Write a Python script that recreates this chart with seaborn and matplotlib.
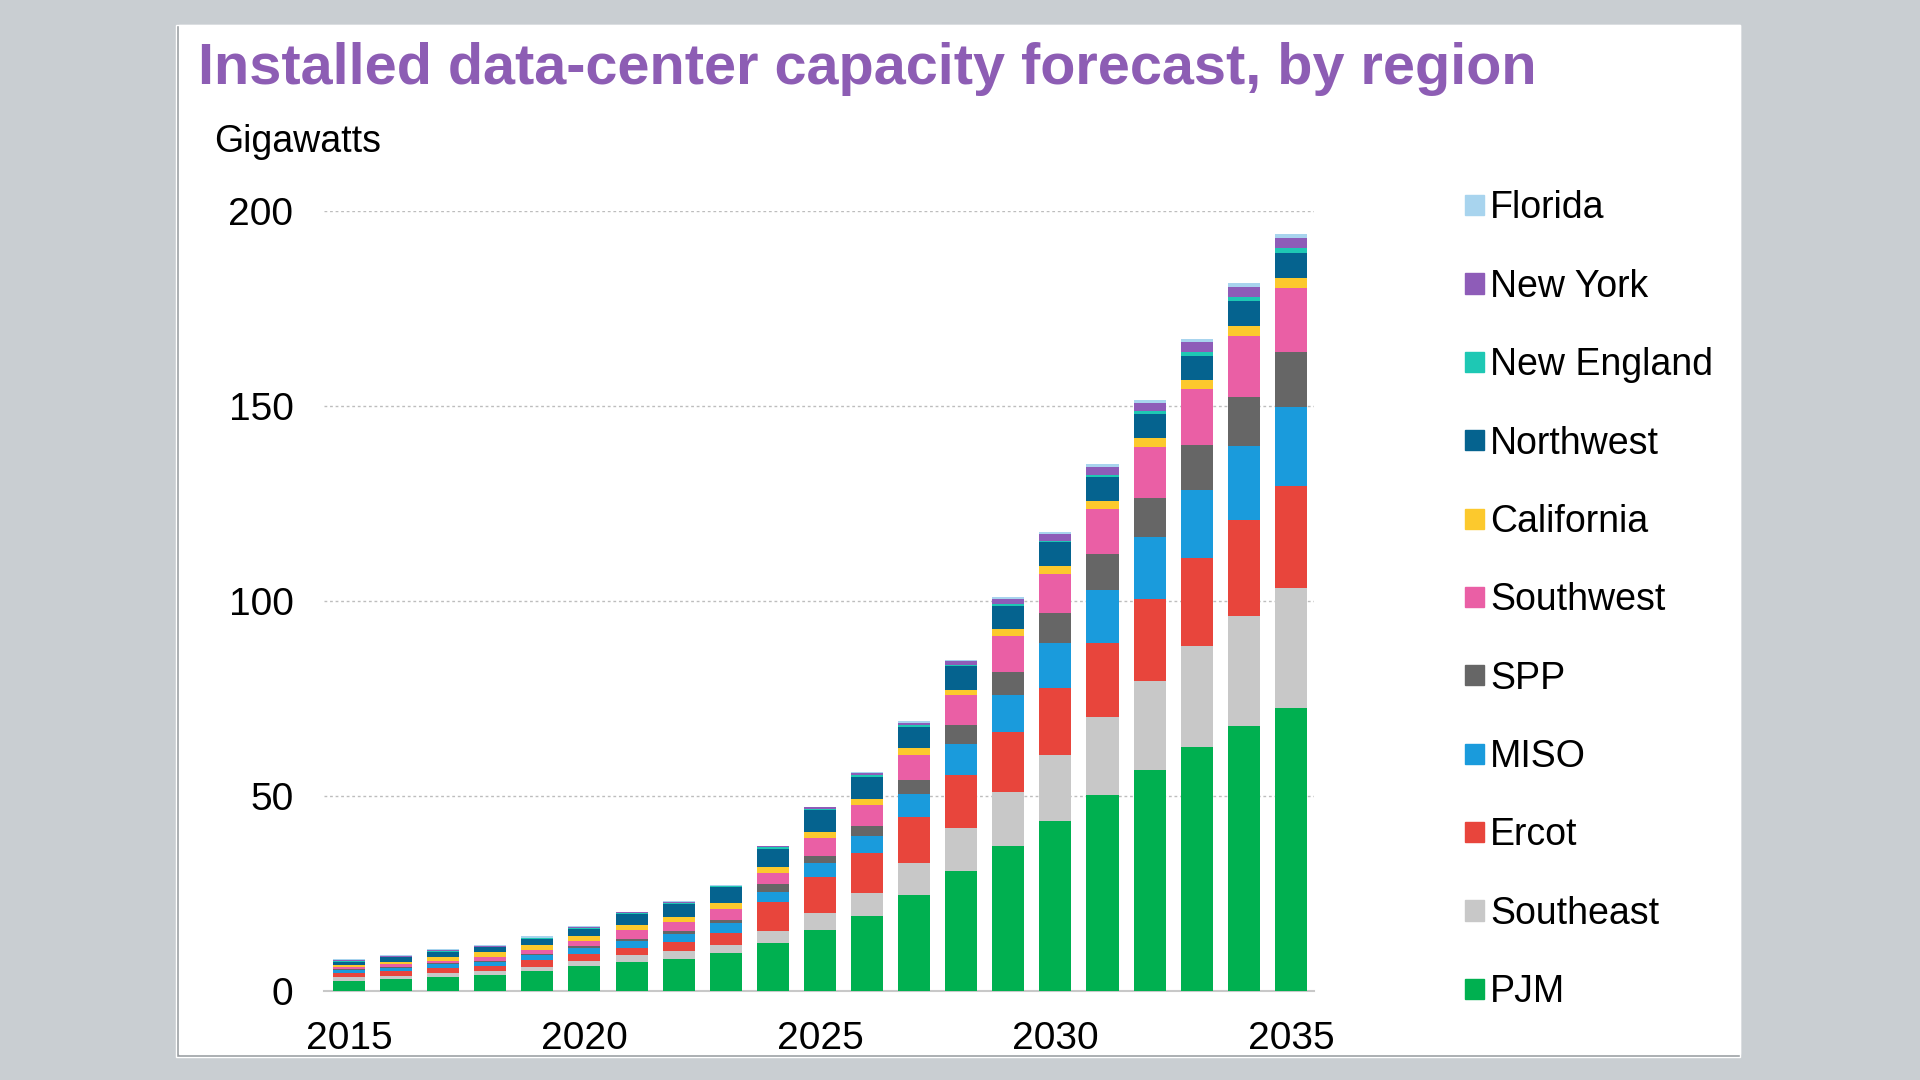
import pandas as pd
import matplotlib.pyplot as plt
import matplotlib.patches as mpatches
import seaborn as sns

# Values (gigawatts)
years = [str(y) for y in range(2015, 2036)]
regions = ['PJM', 'Southeast', 'Ercot', 'MISO', 'SPP', 'Southwest',
           'California', 'Northwest', 'New England', 'New York', 'Florida']

pjm = [2.4, 2.9, 3.4, 3.9, 5.0, 6.2, 7.3, 8.2, 9.6, 12.1, 15.5,
       19.1, 24.4, 30.6, 37.0, 43.5, 50.1, 56.6, 62.4, 67.8, 72.5]
southeast = [1.0, 0.9, 1.1, 1.1, 1.1, 1.5, 1.8, 2.0, 2.2, 3.2, 4.5,
             6.0, 8.2, 11.1, 13.9, 17.0, 20.1, 22.9, 26.0, 28.3, 30.7]
ercot = [1.1, 1.2, 1.3, 1.2, 1.7, 1.8, 1.8, 2.2, 3.0, 7.3, 9.0,
         10.3, 11.9, 13.7, 15.3, 17.2, 19.0, 20.9, 22.6, 24.6, 26.1]
miso = [0.7, 0.8, 0.9, 1.2, 1.4, 1.4, 1.7, 2.1, 2.4, 2.8, 3.6,
        4.3, 5.8, 7.7, 9.6, 11.5, 13.6, 15.8, 17.4, 19.0, 20.4]
spp = [0.3, 0.3, 0.3, 0.3, 0.3, 0.5, 0.7, 0.9, 1.0, 1.8, 1.8,
       2.4, 3.7, 5.0, 6.0, 7.5, 9.1, 10.2, 11.5, 12.6, 14.1]
southwest = [0.5, 0.6, 0.7, 0.9, 1.0, 1.4, 2.2, 2.1, 2.7, 3.0, 4.7,
             5.5, 6.4, 7.6, 9.0, 10.2, 11.5, 12.9, 14.3, 15.6, 16.3]
california = [0.6, 0.6, 1.0, 1.2, 1.3, 1.3, 1.4, 1.4, 1.6, 1.6, 1.5,
              1.6, 1.7, 1.5, 2.0, 2.0, 2.1, 2.3, 2.4, 2.5, 2.6]
northwest = [0.8, 1.2, 1.3, 1.3, 1.4, 1.8, 2.8, 3.4, 4.0, 4.6, 5.6,
             5.6, 5.5, 6.0, 5.7, 6.0, 6.1, 6.3, 6.2, 6.5, 6.5]
new_england = [0.2, 0.2, 0.2, 0.2, 0.2, 0.2, 0.2, 0.2, 0.2, 0.3, 0.4,
               0.4, 0.4, 0.4, 0.5, 0.5, 0.7, 0.7, 1.0, 1.0, 1.1]
new_york = [0.2, 0.2, 0.2, 0.1, 0.2, 0.2, 0.2, 0.2, 0.2, 0.3, 0.4,
            0.6, 0.7, 0.8, 1.4, 1.7, 1.9, 2.1, 2.4, 2.4, 2.6]
florida = [0.3, 0.2, 0.3, 0.2, 0.3, 0.2, 0.1, 0.2, 0.1, 0.2, 0.2,
           0.2, 0.3, 0.4, 0.6, 0.6, 0.8, 0.8, 0.9, 1.1, 1.2]

colors = ['#00b050', '#c8c8c8', '#e8453c', '#1a9bdc', '#666666', '#ea5fa5',
          '#fcc92d', '#05638f', '#1ec8b4', '#8e5cb8', '#a8d4ee']

data = pd.DataFrame({'Year': years, 'PJM': pjm, 'Southeast': southeast,
                     'Ercot': ercot, 'MISO': miso, 'SPP': spp,
                     'Southwest': southwest, 'California': california,
                     'Northwest': northwest, 'New England': new_england,
                     'New York': new_york, 'Florida': florida})

# cumulative totals, drawn from the top series down so they stack
stacked = data[regions].cumsum(axis=1)
stacked['Year'] = data['Year']

sns.set_theme(style='white')
plt.rcParams['font.family'] = ['Liberation Sans', 'DejaVu Sans']
plt.rcParams['text.color'] = 'black'
plt.rcParams['xtick.color'] = 'black'
plt.rcParams['ytick.color'] = 'black'

fig = plt.figure(figsize=(19.2, 10.8), dpi=100)
fig.patch.set_facecolor('#c9ced2')

# white slide panel with a light shadow (kept behind the axes)
fig.patches.append(mpatches.Rectangle((0.0915, 0.0215), 0.8148, 0.9558,
                                      transform=fig.transFigure,
                                      facecolor='#9a9ea2', zorder=-10))
fig.patches.append(mpatches.Rectangle((0.0931, 0.0241), 0.8132, 0.9532,
                                      transform=fig.transFigure,
                                      facecolor='white', zorder=-9))

ax = fig.add_axes([0.16875, 0.0828, 0.5156, 0.7222])
ax.set_facecolor('none')

handles = []
for region, color in reversed(list(zip(regions, colors))):
    sns.barplot(data=stacked, x='Year', y=region, color=color, width=0.68,
                linewidth=0, saturation=1, ax=ax, zorder=3)
    handles.append(mpatches.Patch(color=color, label=region))

ax.set_ylim(0, 200)
ax.set_xlim(-0.53, 20.49)
ax.set_yticks([0, 50, 100, 150, 200])
ax.set_xticks(range(0, 21, 5))
ax.set_xticklabels([years[i] for i in range(0, 21, 5)])
ax.set_xlabel('')
ax.set_ylabel('')
ax.tick_params(axis='both', length=0, labelsize=28, colors='black')
ax.tick_params(axis='y', pad=22)
ax.tick_params(axis='x', pad=22)
ax.yaxis.grid(True, color='#bdbdbd', linestyle=(0, (2, 2)), linewidth=1)
ax.set_axisbelow(True)
for side in ['top', 'right', 'left']:
    ax.spines[side].set_visible(False)
ax.spines['bottom'].set_color('#c8c8c8')
ax.spines['bottom'].set_linewidth(1.5)

fig.text(0.103, 0.9218, 'Installed data-center capacity forecast, by region',
         fontsize=41.5, fontweight='bold', color='#8d5db4', va='baseline')
fig.text(0.1115, 0.8592, 'Gigawatts', fontsize=27, va='baseline')

fig.legend(handles=handles, loc='upper left', bbox_to_anchor=(0.7535, 0.841),
           frameon=False, fontsize=27, handlelength=0.5, handleheight=0.45,
           handletextpad=0.15, labelspacing=1.13, borderpad=0)

fig.savefig('out.png', dpi=100, facecolor=fig.get_facecolor())
